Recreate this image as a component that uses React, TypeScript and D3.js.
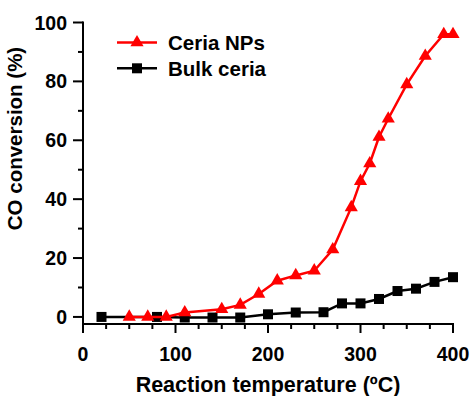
import React from "react";
import * as d3 from "d3";

// Reaction temperature (°C) and CO conversion (%) for each catalyst
const npTemps = [50, 70, 90, 110, 150, 170, 190, 210, 230, 250, 270, 290, 300, 310, 320, 330, 350, 370, 390, 400];
const npConversion = [0, 0, 0, 1.5, 2.6, 4.1, 7.8, 12.3, 14.1, 15.7, 22.9, 37.2, 46.1, 52.1, 61.1, 67.3, 79, 88.6, 96, 96];

const bulkTemps = [20, 80, 110, 140, 170, 200, 230, 260, 280, 300, 320, 340, 360, 380, 400];
const bulkConversion = [0, 0, -0.2, -0.2, -0.2, 0.9, 1.5, 1.6, 4.6, 4.6, 6.1, 8.8, 9.6, 11.9, 13.5];

const xMajorTicks = [0, 100, 200, 300, 400];
const yMajorTicks = [0, 20, 40, 60, 80, 100];

const seriesNames = ["Ceria NPs", "Bulk ceria"];

const W = 472;
const H = 396;
const FONT = "'Liberation Sans', Arial, Helvetica, sans-serif";

export default function App() {
  const x = d3.scaleLinear().domain([0, 400]).range([83, 453]);
  const y = d3.scaleLinear().domain([-2.4, 100]).range([324, 22.5]);

  const xMinor = d3.range(0, 401, 25).filter((v) => v % 100 !== 0);
  const yMinor = d3.range(10, 100, 20);

  const line = d3
    .line<[number, number]>()
    .x((d) => x(d[0]))
    .y((d) => y(d[1]));

  const npPts: [number, number][] = npTemps.map((t, i) => [t, npConversion[i]]);
  const bulkPts: [number, number][] = bulkTemps.map((t, i) => [t, bulkConversion[i]]);

  const tri = d3.symbol().type(d3.symbolTriangle).size(75)() as string;
  const sq = 10;

  const y0 = y.range()[0];
  const x0 = x.range()[0];

  return (
    <svg
      width={W}
      height={H}
      style={{ position: "absolute", left: 0, top: 0, background: "#fff" }}
      fontFamily={FONT}
      fontWeight="bold"
    >
      {/* series: bulk ceria below, nanoparticles on top */}
      <path d={line(bulkPts) || ""} fill="none" stroke="#000" strokeWidth={2.5} />
      {bulkPts.map((p, i) => (
        <rect key={"b" + i} x={x(p[0]) - sq / 2} y={y(p[1]) - sq / 2} width={sq} height={sq} fill="#000" />
      ))}
      <path d={line(npPts) || ""} fill="none" stroke="#ff0000" strokeWidth={2.5} />
      {npPts.map((p, i) => (
        <path key={"n" + i} d={tri} transform={`translate(${x(p[0])},${y(p[1])})`} fill="#ff0000" />
      ))}

      {/* axes */}
      <line x1={x0} x2={x0} y1={y(100) - 1} y2={y0 + 1} stroke="#000" strokeWidth={2} />
      <line x1={x0 - 1} x2={x.range()[1] + 1} y1={y0} y2={y0} stroke="#000" strokeWidth={2} />

      {xMajorTicks.map((v) => (
        <g key={"xt" + v}>
          <line x1={x(v)} x2={x(v)} y1={y0} y2={y0 + 9} stroke="#000" strokeWidth={2} />
          <text x={x(v)} y={361} fontSize={19.5} textAnchor="middle" fill="#000">
            {v}
          </text>
        </g>
      ))}
      {xMinor.map((v) => (
        <line key={"xm" + v} x1={x(v)} x2={x(v)} y1={y0} y2={y0 + 5} stroke="#000" strokeWidth={2} />
      ))}

      {yMajorTicks.map((v) => (
        <g key={"yt" + v}>
          <line x1={x0 - 10} x2={x0} y1={y(v)} y2={y(v)} stroke="#000" strokeWidth={2} />
          <text x={67} y={y(v) + 7} fontSize={19.5} textAnchor="end" fill="#000">
            {v}
          </text>
        </g>
      ))}
      {yMinor.map((v) => (
        <line key={"ym" + v} x1={x0 - 5} x2={x0} y1={y(v)} y2={y(v)} stroke="#000" strokeWidth={2} />
      ))}

      {/* axis titles */}
      <text x={268} y={392} fontSize={21.5} textAnchor="middle" fill="#000">
        Reaction temperature (ºC)
      </text>
      <text
        transform="translate(22,138.5) rotate(-90)"
        fontSize={20.5}
        textAnchor="middle"
        fill="#000"
      >
        CO conversion (%)
      </text>

      {/* legend */}
      <g>
        <line x1={117} x2={157} y1={42.5} y2={42.5} stroke="#ff0000" strokeWidth={2.5} />
        <path d={tri} transform="translate(137,42.5)" fill="#ff0000" />
        <text x={168} y={50} fontSize={20.5} fill="#000">
          {seriesNames[0]}
        </text>
        <line x1={117} x2={157} y1={68.3} y2={68.3} stroke="#000" strokeWidth={2.5} />
        <rect x={137 - sq / 2} y={68.3 - sq / 2} width={sq} height={sq} fill="#000" />
        <text x={168} y={75.5} fontSize={20.5} fill="#000">
          {seriesNames[1]}
        </text>
      </g>
    </svg>
  );
}
